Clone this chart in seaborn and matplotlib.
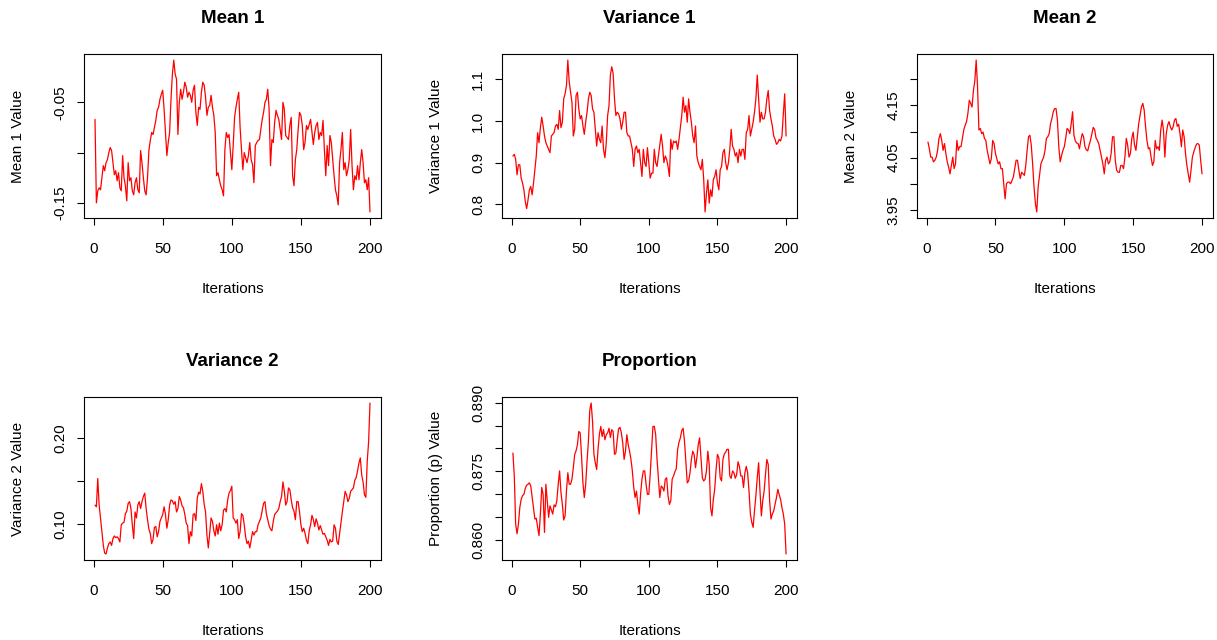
import matplotlib
matplotlib.use('Agg')
import matplotlib.pyplot as plt
import seaborn as sns

# trace values (200 iterations each)
iterations = list(range(1, 201))

mean1 = [
    -0.067, -0.150, -0.138, -0.135, -0.137, -0.125, -0.113, -0.118, -0.110, -0.107,
    -0.100, -0.095, -0.098, -0.110, -0.122, -0.118, -0.128, -0.120, -0.135, -0.138,
    -0.103, -0.125, -0.133, -0.148, -0.110, -0.128, -0.125, -0.138, -0.142, -0.130,
    -0.125, -0.137, -0.140, -0.098, -0.110, -0.125, -0.138, -0.142, -0.125, -0.098,
    -0.088, -0.080, -0.082, -0.075, -0.068, -0.058, -0.055, -0.047, -0.042, -0.038,
    -0.057, -0.080, -0.103, -0.090, -0.080, -0.047, -0.022, -0.008, -0.022, -0.027,
    -0.082, -0.050, -0.037, -0.047, -0.040, -0.030, -0.035, -0.045, -0.040, -0.043,
    -0.050, -0.038, -0.033, -0.060, -0.073, -0.055, -0.057, -0.040, -0.030, -0.033,
    -0.045, -0.063, -0.055, -0.053, -0.043, -0.055, -0.063, -0.080, -0.123, -0.120,
    -0.127, -0.133, -0.137, -0.143, -0.097, -0.080, -0.085, -0.082, -0.100, -0.117,
    -0.093, -0.065, -0.055, -0.047, -0.040, -0.075, -0.097, -0.117, -0.100, -0.105,
    -0.110, -0.103, -0.090, -0.107, -0.112, -0.130, -0.093, -0.090, -0.088, -0.087,
    -0.077, -0.067, -0.060, -0.050, -0.047, -0.037, -0.057, -0.113, -0.087, -0.090,
    -0.070, -0.058, -0.063, -0.067, -0.077, -0.087, -0.050, -0.057, -0.083, -0.085,
    -0.087, -0.073, -0.065, -0.123, -0.133, -0.107, -0.097, -0.077, -0.060, -0.063,
    -0.073, -0.097, -0.090, -0.073, -0.077, -0.072, -0.067, -0.080, -0.092, -0.080,
    -0.073, -0.070, -0.087, -0.080, -0.083, -0.068, -0.097, -0.123, -0.093, -0.113,
    -0.083, -0.090, -0.107, -0.123, -0.137, -0.143, -0.152, -0.110, -0.097, -0.080,
    -0.117, -0.110, -0.123, -0.117, -0.107, -0.077, -0.113, -0.137, -0.123, -0.127,
    -0.113, -0.127, -0.110, -0.097, -0.110, -0.130, -0.127, -0.137, -0.125, -0.159,
]

variance1 = [
    0.916, 0.920, 0.908, 0.871, 0.895, 0.895, 0.863, 0.851, 0.835, 0.807,
    0.790, 0.811, 0.835, 0.843, 0.823, 0.851, 0.883, 0.916, 0.972, 0.948,
    0.984, 1.009, 0.988, 0.964, 0.948, 0.940, 0.932, 0.924, 0.964, 0.968,
    0.972, 0.988, 0.992, 0.980, 1.025, 0.984, 0.997, 1.053, 1.065, 1.085,
    1.146, 1.094, 1.069, 1.045, 0.964, 0.980, 1.061, 1.069, 1.029, 1.005,
    1.013, 0.988, 0.968, 0.997, 1.021, 1.053, 1.069, 1.061, 1.029, 1.021,
    0.980, 0.940, 0.972, 0.956, 0.948, 0.988, 0.932, 0.912, 0.948, 1.013,
    1.037, 1.110, 1.130, 1.114, 1.053, 1.013, 1.021, 1.017, 1.005, 0.980,
    0.997, 1.021, 1.021, 0.972, 0.964, 0.964, 0.948, 0.932, 0.891, 0.932,
    0.940, 0.924, 0.932, 0.900, 0.867, 0.932, 0.900, 0.891, 0.936, 0.900,
    0.863, 0.875, 0.875, 0.932, 0.900, 0.891, 0.916, 0.940, 0.968, 0.940,
    0.900, 0.916, 0.908, 0.891, 0.867, 0.956, 0.932, 0.952, 0.948, 0.952,
    0.932, 0.956, 0.984, 1.013, 1.057, 1.021, 1.037, 0.997, 1.053, 1.021,
    0.997, 0.964, 0.948, 0.988, 0.916, 0.900, 0.891, 0.883, 0.908, 0.859,
    0.782, 0.827, 0.859, 0.803, 0.835, 0.819, 0.859, 0.867, 0.883, 0.851,
    0.835, 0.883, 0.891, 0.924, 0.932, 0.900, 0.883, 0.900, 0.932, 0.980,
    0.940, 0.932, 0.916, 0.924, 0.900, 0.932, 0.916, 0.932, 0.932, 0.908,
    0.972, 0.980, 1.013, 0.964, 0.980, 0.997, 1.021, 1.053, 1.110, 1.053,
    0.997, 1.021, 1.005, 1.005, 1.021, 1.053, 1.073, 1.025, 1.005, 0.988,
    0.964, 0.956, 0.944, 0.948, 0.956, 0.952, 0.964, 1.017, 1.065, 0.964,
]

mean2 = [
    4.080, 4.067, 4.051, 4.051, 4.042, 4.045, 4.051, 4.064, 4.087, 4.096,
    4.083, 4.064, 4.077, 4.058, 4.042, 4.032, 4.019, 4.035, 4.051, 4.029,
    4.038, 4.083, 4.064, 4.071, 4.071, 4.087, 4.103, 4.112, 4.119, 4.135,
    4.160, 4.154, 4.147, 4.179, 4.196, 4.237, 4.186, 4.103, 4.106, 4.096,
    4.099, 4.087, 4.083, 4.064, 4.051, 4.038, 4.048, 4.083, 4.077, 4.058,
    4.048, 4.038, 4.042, 4.029, 4.029, 4.000, 3.971, 4.000, 4.003, 4.003,
    4.000, 4.006, 4.013, 4.029, 4.045, 4.045, 4.026, 4.010, 4.022, 4.019,
    4.016, 4.035, 4.064, 4.090, 4.093, 4.074, 4.038, 3.994, 3.962, 3.946,
    3.994, 4.016, 4.038, 4.045, 4.051, 4.064, 4.087, 4.090, 4.096, 4.115,
    4.125, 4.138, 4.144, 4.144, 4.122, 4.071, 4.042, 4.054, 4.064, 4.071,
    4.087, 4.106, 4.103, 4.096, 4.115, 4.138, 4.093, 4.082, 4.078, 4.077,
    4.067, 4.083, 4.096, 4.090, 4.071, 4.065, 4.063, 4.074, 4.083, 4.096,
    4.108, 4.104, 4.088, 4.083, 4.077, 4.064, 4.051, 4.038, 4.019, 4.045,
    4.051, 4.038, 4.042, 4.058, 4.090, 4.090, 4.045, 4.026, 4.022, 4.022,
    4.035, 4.035, 4.029, 4.051, 4.087, 4.074, 4.051, 4.058, 4.087, 4.099,
    4.074, 4.064, 4.090, 4.115, 4.131, 4.147, 4.154, 4.141, 4.109, 4.083,
    4.067, 4.069, 4.051, 4.035, 4.042, 4.083, 4.067, 4.071, 4.064, 4.103,
    4.122, 4.103, 4.051, 4.096, 4.112, 4.119, 4.109, 4.103, 4.109, 4.122,
    4.125, 4.110, 4.114, 4.096, 4.071, 4.103, 4.090, 4.058, 4.035, 4.019,
    4.003, 4.026, 4.051, 4.061, 4.069, 4.076, 4.077, 4.074, 4.045, 4.019,
]

variance2 = [
    0.122, 0.120, 0.153, 0.122, 0.107, 0.091, 0.075, 0.066, 0.065, 0.072,
    0.077, 0.079, 0.075, 0.083, 0.086, 0.084, 0.085, 0.083, 0.079, 0.099,
    0.101, 0.102, 0.112, 0.115, 0.124, 0.126, 0.118, 0.099, 0.083, 0.114,
    0.107, 0.122, 0.126, 0.118, 0.126, 0.132, 0.136, 0.118, 0.105, 0.094,
    0.089, 0.077, 0.082, 0.096, 0.097, 0.085, 0.091, 0.103, 0.107, 0.111,
    0.120, 0.111, 0.095, 0.105, 0.122, 0.128, 0.127, 0.123, 0.126, 0.114,
    0.118, 0.132, 0.128, 0.121, 0.119, 0.111, 0.101, 0.098, 0.077, 0.091,
    0.086, 0.111, 0.112, 0.104, 0.130, 0.137, 0.135, 0.147, 0.138, 0.123,
    0.114, 0.087, 0.072, 0.089, 0.107, 0.103, 0.092, 0.086, 0.099, 0.088,
    0.101, 0.092, 0.099, 0.116, 0.118, 0.114, 0.128, 0.136, 0.139, 0.144,
    0.107, 0.105, 0.101, 0.105, 0.083, 0.091, 0.112, 0.110, 0.099, 0.085,
    0.077, 0.080, 0.072, 0.081, 0.091, 0.087, 0.091, 0.091, 0.099, 0.103,
    0.107, 0.116, 0.124, 0.126, 0.112, 0.105, 0.098, 0.094, 0.092, 0.103,
    0.111, 0.113, 0.115, 0.118, 0.126, 0.132, 0.149, 0.138, 0.122, 0.126,
    0.142, 0.140, 0.128, 0.119, 0.115, 0.105, 0.126, 0.126, 0.114, 0.099,
    0.091, 0.095, 0.089, 0.081, 0.077, 0.092, 0.099, 0.110, 0.105, 0.097,
    0.106, 0.101, 0.093, 0.098, 0.093, 0.088, 0.089, 0.085, 0.081, 0.075,
    0.082, 0.079, 0.080, 0.099, 0.095, 0.080, 0.076, 0.089, 0.102, 0.114,
    0.126, 0.138, 0.134, 0.126, 0.130, 0.138, 0.140, 0.142, 0.151, 0.154,
    0.162, 0.171, 0.177, 0.157, 0.149, 0.134, 0.131, 0.173, 0.196, 0.241,
]

proportion = [
    0.8790, 0.8740, 0.8635, 0.8614, 0.8635, 0.8671, 0.8689, 0.8697, 0.8700, 0.8713,
    0.8720, 0.8722, 0.8725, 0.8718, 0.8693, 0.8670, 0.8646, 0.8648, 0.8628, 0.8610,
    0.8657, 0.8715, 0.8700, 0.8617, 0.8722, 0.8686, 0.8650, 0.8675, 0.8666, 0.8657,
    0.8677, 0.8673, 0.8686, 0.8722, 0.8751, 0.8704, 0.8678, 0.8644, 0.8653, 0.8707,
    0.8747, 0.8722, 0.8722, 0.8733, 0.8758, 0.8787, 0.8795, 0.8808, 0.8837, 0.8834,
    0.8783, 0.8725, 0.8693, 0.8722, 0.8772, 0.8816, 0.8884, 0.8899, 0.8859, 0.8787,
    0.8769, 0.8754, 0.8798, 0.8831, 0.8848, 0.8826, 0.8841, 0.8819, 0.8830, 0.8834,
    0.8844, 0.8824, 0.8841, 0.8837, 0.8787, 0.8790, 0.8819, 0.8843, 0.8846, 0.8834,
    0.8812, 0.8776, 0.8794, 0.8830, 0.8808, 0.8794, 0.8776, 0.8751, 0.8715, 0.8693,
    0.8707, 0.8678, 0.8657, 0.8700, 0.8733, 0.8751, 0.8751, 0.8722, 0.8700, 0.8700,
    0.8743, 0.8794, 0.8848, 0.8848, 0.8830, 0.8776, 0.8733, 0.8693, 0.8718, 0.8715,
    0.8707, 0.8733, 0.8736, 0.8697, 0.8678, 0.8686, 0.8733, 0.8740, 0.8749, 0.8756,
    0.8798, 0.8814, 0.8823, 0.8839, 0.8844, 0.8816, 0.8772, 0.8725, 0.8729, 0.8747,
    0.8776, 0.8794, 0.8787, 0.8758, 0.8780, 0.8808, 0.8823, 0.8780, 0.8736, 0.8729,
    0.8733, 0.8751, 0.8794, 0.8765, 0.8671, 0.8653, 0.8689, 0.8711, 0.8754, 0.8787,
    0.8780, 0.8736, 0.8729, 0.8776, 0.8788, 0.8792, 0.8798, 0.8798, 0.8740, 0.8735,
    0.8751, 0.8747, 0.8735, 0.8743, 0.8771, 0.8761, 0.8740, 0.8740, 0.8715, 0.8747,
    0.8761, 0.8747, 0.8707, 0.8657, 0.8639, 0.8628, 0.8664, 0.8697, 0.8736, 0.8769,
    0.8707, 0.8653, 0.8686, 0.8707, 0.8743, 0.8776, 0.8765, 0.8686, 0.8646, 0.8657,
    0.8664, 0.8678, 0.8693, 0.8711, 0.8699, 0.8689, 0.8671, 0.8657, 0.8635, 0.8570,
]

titles = ['Mean 1', 'Variance 1', 'Mean 2', 'Variance 2', 'Proportion']
ylabels = ['Mean 1 Value', 'Variance 1 Value', 'Mean 2 Value',
           'Variance 2 Value', 'Proportion (p) Value']
series = [mean1, variance1, mean2, variance2, proportion]

x_ticks = [0, 50, 100, 150, 200]
y_ticks = [
    [-0.15, -0.10, -0.05],
    [0.8, 0.9, 1.0, 1.1],
    [3.95, 4.00, 4.05, 4.10, 4.15, 4.20],
    [0.10, 0.15, 0.20],
    [0.860, 0.865, 0.870, 0.875, 0.880, 0.885, 0.890],
]
# R drops labels that would overlap, so some ticks stay unlabelled
y_ticklabels = [
    ['-0.15', '', '-0.05'],
    ['0.8', '0.9', '1.0', '1.1'],
    ['3.95', '', '4.05', '', '4.15', ''],
    ['0.10', '', '0.20'],
    ['0.860', '', '', '0.875', '', '', '0.890'],
]

W, H = 1217, 640
# axes boxes in pixels: left, top, right, bottom
boxes = [
    (84, 54, 381, 218),
    (502, 54, 797, 218),
    (917, 54, 1213, 218),
    (84, 397, 381, 560),
    (502, 397, 797, 560),
]

sns.set_theme(style='white')
plt.rcParams['font.family'] = ['Liberation Sans', 'DejaVu Sans']
plt.rcParams['text.color'] = 'black'
plt.rcParams['axes.labelcolor'] = 'black'

fig = plt.figure(figsize=(W / 100, H / 100), dpi=100)

for k in range(5):
    l, t, r, b = boxes[k]
    ax = fig.add_axes([l / W, 1 - b / H, (r - l) / W, (b - t) / H])
    sns.lineplot(x=iterations, y=series[k], ax=ax, color='red',
                 linewidth=0.9, estimator=None)

    vals = series[k]
    lo, hi = min(vals), max(vals)
    pad = 0.04 * (hi - lo)
    ax.set_ylim(lo - pad, hi + pad)
    ax.set_xlim(1 - 0.04 * 199, 200 + 0.04 * 199)

    ax.set_xticks(x_ticks)
    ax.set_xticklabels([str(v) for v in x_ticks])
    ax.set_yticks(y_ticks[k])
    ax.set_yticklabels(y_ticklabels[k], rotation=90, va='center')

    ax.tick_params(axis='both', direction='out', length=5, width=0.8,
                   color='black', labelsize=11, labelcolor='black',
                   bottom=True, left=True)
    ax.tick_params(axis='x', pad=12)
    ax.tick_params(axis='y', pad=7)

    for sp in ax.spines.values():
        sp.set_color('black')
        sp.set_linewidth(0.8)

    ax.set_title(titles[k], fontsize=13.5, fontweight='bold', pad=22,
                 color='black')
    ax.set_xlabel('Iterations', fontsize=11, color='black')
    ax.set_ylabel(ylabels[k], fontsize=11, color='black')
    ax.xaxis.label.set_va('center')
    ax.yaxis.label.set_va('center')
    ax.xaxis.set_label_coords(0.5, -71 / (b - t))
    ax.yaxis.set_label_coords(-66 / (r - l), 0.5)

fig.savefig('out.png', dpi=100)
